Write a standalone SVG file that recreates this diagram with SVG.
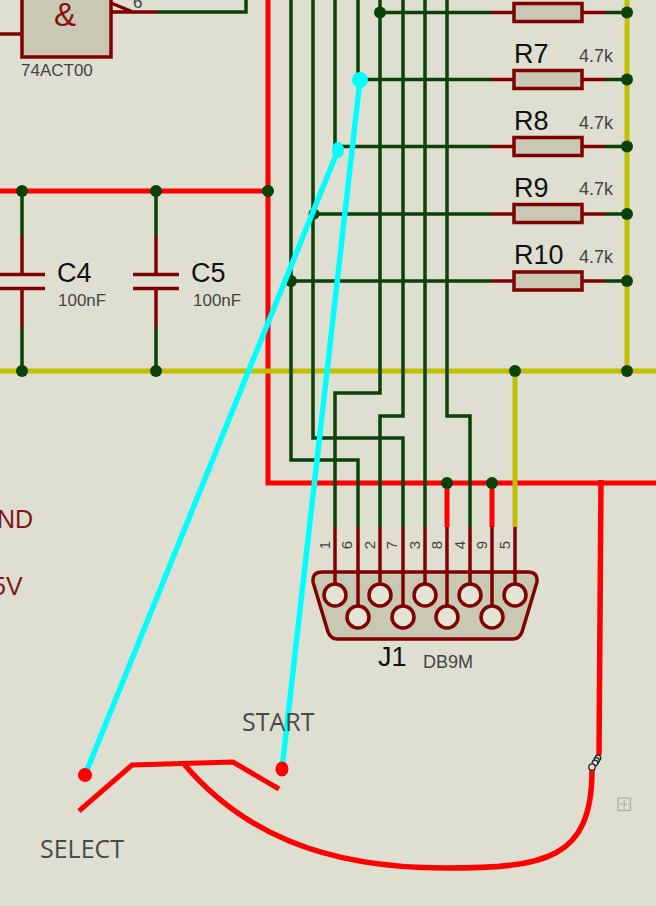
<svg xmlns="http://www.w3.org/2000/svg" width="656" height="906" viewBox="0 0 656 906">
<style>
.w{fill:none;stroke-linejoin:miter}
.g{stroke:#0a4208;stroke-width:3.500}
.p{stroke:#800000;stroke-width:3.500;fill:none}
.r{stroke:#fe0000;stroke-width:5;fill:none}
.y{stroke:#c0c000;stroke-width:5;fill:none}
.c{stroke:#00ffff;stroke-width:5.500;fill:none}
.body{fill:#c9c8b3;stroke:#800000;stroke-width:3.500}
.d{fill:#0a4208}
.n{font-family:"Liberation Sans",Arial,sans-serif;font-size:27px;fill:#111}
.v{font-family:"Liberation Sans",Arial,sans-serif;font-size:17px;fill:#444}
.pin{font-family:"Liberation Sans",Arial,sans-serif;font-size:15px;fill:#444;text-anchor:middle}
.lab{font-family:"Open Sans","Liberation Sans",sans-serif;font-size:25px;fill:#4a4a48}
.t{font-family:"Liberation Sans",Arial,sans-serif;font-size:25px;fill:#801818}
</style>
<rect width="656" height="906" fill="#dfdfd1"/>
<g id="connectors">
<path class="r" d="M268 0V483H656M0 191H268"/>
<path class="y" d="M0 371H656M627 0V371M515 371V527"/>
<path class="g w" d="M291 0V460H358V527M313 0V438H403V527M335 0V146.500H491M358 0V79.500H491M380 0V393H335V527M403 0V416H380V527M425 0V527M447 0V416H470V527M380 12.500H491M313 214H491M291 281H491M22 191V236M156 191V236M22 327V371M156 327V371M157 12H246V0M605 12.500H627M605 79.500H627M605 146.500H627M605 214H627M605 281H627"/>
<path class="r" d="M447 483V527M492 483V527"/>
<path class="p" d="M491 12.500H514M491 79.500H514M491 146.500H514M491 214H514M491 281H514M582 12.500H605M582 79.500H605M582 146.500H605M582 214H605M582 281H605"/>
<g class="d">
<circle cx="380" cy="12.500" r="6"/><circle cx="627" cy="12.500" r="6"/><circle cx="627" cy="79.500" r="6"/><circle cx="627" cy="146.500" r="6"/><circle cx="627" cy="214" r="6"/><circle cx="627" cy="281" r="6"/>
<circle cx="314" cy="214" r="5.500"/><circle cx="291" cy="281" r="6"/><circle cx="22" cy="191" r="6"/><circle cx="156" cy="191" r="6"/><circle cx="268" cy="191" r="6"/><circle cx="22" cy="371" r="6"/><circle cx="156" cy="371" r="6"/><circle cx="627" cy="371" r="6"/><circle cx="515" cy="371" r="6"/><circle cx="447" cy="483" r="6"/><circle cx="492" cy="483" r="6"/>
</g>
</g>
<g id="U-gate">
<path class="p" d="M0 34H22M111 3L133 12M111 12H157"/>
<rect class="body" x="22" y="-6" width="89" height="63"/>
<text x="54" y="26" font-family="Liberation Sans,Arial,sans-serif" font-size="33" fill="#8a1010">&amp;</text>
<text x="133" y="8" class="v">6</text>
<text x="21" y="76" class="v">74ACT00</text>
</g>
<g id="C4">
<path class="p" d="M22 236V274M0 274.500H45M0 288.500H45M22 288V327"/>
<text x="57" y="282" class="n">C4</text><text x="58" y="306" class="v">100nF</text>
</g>
<g id="C5">
<path class="p" d="M156 236V274M133 274.500H179M133 288.500H179M156 288V327"/>
<text x="191" y="282" class="n">C5</text><text x="193" y="306" class="v">100nF</text>
</g>
<g id="R6"><rect class="body" x="514" y="3.500" width="68" height="18"/></g>
<g id="R7"><rect class="body" x="514" y="70.500" width="68" height="18"/><text x="514" y="63" class="n">R7</text><text x="579" y="62" class="v" font-size="18" style="font-size:18px">4.7k</text></g>
<g id="R8"><rect class="body" x="514" y="137.500" width="68" height="18"/><text x="514" y="130" class="n">R8</text><text x="579" y="129" class="v" style="font-size:18px">4.7k</text></g>
<g id="R9"><rect class="body" x="514" y="204.500" width="68" height="18"/><text x="514" y="197" class="n">R9</text><text x="579" y="195" class="v" style="font-size:18px">4.7k</text></g>
<g id="R10"><rect class="body" x="514" y="272" width="68" height="18"/><text x="514" y="264" class="n">R10</text><text x="579" y="263" class="v" style="font-size:18px">4.7k</text></g>
<g id="J1">
<path class="body" d="M322 572H528Q538 572 537 582L522 632Q519 639 513 639H337Q331 639 328 632L313 582Q312 572 322 572Z"/>
<path class="p" d="M335 527V584M358 527V606M380 527V584M403 527V606M425 527V584M447 527V606M470 527V584M492 527V606M515 527V584"/>
<g fill="#e3e3d6" stroke="#800000" stroke-width="3.500">
<circle cx="335" cy="595" r="11"/><circle cx="380" cy="595" r="11"/><circle cx="425" cy="595" r="11"/><circle cx="470" cy="595" r="11"/><circle cx="515" cy="595" r="11"/>
<circle cx="358" cy="617" r="11"/><circle cx="403" cy="617" r="11"/><circle cx="447" cy="617" r="11"/><circle cx="492" cy="617" r="11"/>
</g>
<g class="pin">
<text transform="translate(330 545) rotate(-90)">1</text><text transform="translate(352 545) rotate(-90)">6</text><text transform="translate(375 545) rotate(-90)">2</text><text transform="translate(397 545) rotate(-90)">7</text><text transform="translate(420 545) rotate(-90)">3</text><text transform="translate(442 545) rotate(-90)">8</text><text transform="translate(465 545) rotate(-90)">4</text><text transform="translate(487 545) rotate(-90)">9</text><text transform="translate(510 545) rotate(-90)">5</text>
</g>
<text x="378" y="666" class="n">J1</text><text x="423" y="668" class="v" style="font-size:18px">DB9M</text>
</g>
<g id="terminals">
<text x="-3" y="528" class="t">ND</text>
<text x="-8" y="595" class="t">5V</text>
</g>
<g id="probes">
<path class="c" d="M85 775L338 150M282 769L360 80"/>
<ellipse cx="338" cy="150" rx="6" ry="8" fill="#00ffff"/><circle cx="360" cy="80" r="8" fill="#00ffff"/>
<circle cx="85" cy="775" r="7" fill="#fe0000"/><ellipse cx="282" cy="769" rx="6.500" ry="7.500" fill="#fe0000"/>
</g>
<g id="switch">
<path class="r" d="M79 811L132 765L233 762L279 789"/>
<path class="r" d="M184 764C240 830 320 868 445 868C545 868 592 860 592 770" style="stroke-width:5.500"/>
<path class="r" d="M599 755L601 480" style="stroke-width:5.500"/>
<text x="242" y="731" class="lab">START</text>
<text x="40" y="858" class="lab">SELECT</text>
</g>
<g id="joint" fill="#dfdfd1" stroke="#222" stroke-width="1.300">
<circle cx="598" cy="758" r="2.800"/><circle cx="596.500" cy="760.500" r="2.800"/><circle cx="595" cy="763" r="2.800"/><circle cx="592" cy="767" r="3.200"/>
</g>
<g id="handle">
<rect x="618" y="798" width="12.500" height="12.500" fill="none" stroke="#b0b0a4" stroke-width="1.300"/>
<path d="M624.200 800V809M620 804.200H629" stroke="#b0b0a4" stroke-width="1.300" stroke-dasharray="3 1"/>
</g>
</svg>
